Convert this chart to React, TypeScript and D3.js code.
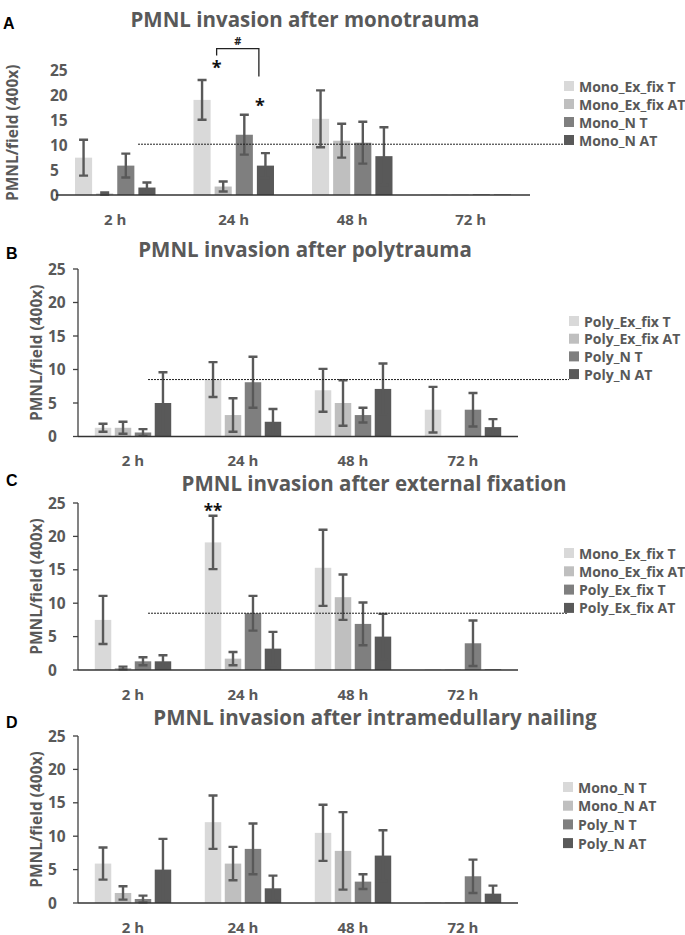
import React, { useEffect, useRef } from "react";
import * as d3 from "d3";

// time points and y ticks
const timepoints = ["2 h", "24 h", "48 h", "72 h"];
const yTicks = [0, 5, 10, 15, 20, 25];

// means (PMNL/field) per time point
const monoExFixT = [7.5, 19.1, 15.3, 0.15];
const monoExFixAT = [0.3, 1.7, 10.9, 0.1];
const monoNT = [5.9, 12.1, 10.5, 0.15];
const monoNAT = [1.5, 5.9, 7.8, 0.1];
const polyExFixT = [1.3, 8.5, 6.9, 4.0];
const polyExFixAT = [1.3, 3.2, 5.0, 0.1];
const polyNT = [0.6, 8.1, 3.2, 4.0];
const polyNAT = [5.0, 2.2, 7.1, 1.4];

// error bars (+/-)
const monoExFixTErr = [3.6, 4.0, 5.7, 0];
const monoExFixATErr = [0.2, 1.0, 3.4, 0];
const monoNTErr = [2.4, 4.0, 4.2, 0];
const monoNATErr = [1.0, 2.5, 5.8, 0];
const polyExFixTErr = [0.6, 2.6, 3.2, 3.4];
const polyExFixATErr = [0.9, 2.5, 3.4, 0];
const polyNTErr = [0.5, 3.8, 1.1, 2.5];
const polyNATErr = [4.6, 1.9, 3.8, 1.2];

const colors = ["#d9d9d9", "#bfbfbf", "#7f7f7f", "#595959"];
const textColor = "#595959";
const font = "'Open Sans', sans-serif";

const panels = [
  {
    letter: "A",
    letterPos: [3, 29],
    title: "PMNL invasion after monotrauma",
    titlePos: [305, 27],
    names: ["Mono_Ex_fix T", "Mono_Ex_fix AT", "Mono_N T", "Mono_N AT"],
    values: [monoExFixT, monoExFixAT, monoNT, monoNAT],
    errors: [monoExFixTErr, monoExFixATErr, monoNTErr, monoNATErr],
    left: 56,
    right: 530,
    bottom: 195,
    top: 70.5,
    axisLine: false,
    tickX: 50,
    yLabelX: 12,
    ref: 10.2,
    refX: [138, 565],
    legend: [564, 86, 18],
    padIn: 0.19,
    padOut: 0.9,
  },
  {
    letter: "B",
    letterPos: [6, 259],
    title: "PMNL invasion after polytrauma",
    titlePos: [305, 257],
    names: ["Poly_Ex_fix T", "Poly_Ex_fix AT", "Poly_N T", "Poly_N AT"],
    values: [polyExFixT, polyExFixAT, polyNT, polyNAT],
    errors: [polyExFixTErr, polyExFixATErr, polyNTErr, polyNATErr],
    left: 78,
    right: 518,
    bottom: 436.5,
    top: 269,
    axisLine: true,
    tickX: 48,
    yLabelX: 36,
    ref: 8.5,
    refX: [148, 569],
    legend: [569, 321, 17.7],
    padIn: 0.175,
    padOut: 0.84,
  },
  {
    letter: "C",
    letterPos: [6, 486],
    title: "PMNL invasion after external fixation",
    titlePos: [374, 491],
    names: ["Mono_Ex_fix T", "Mono_Ex_fix AT", "Poly_Ex_fix T", "Poly_Ex_fix AT"],
    values: [monoExFixT, monoExFixAT, polyExFixT, polyExFixAT],
    errors: [monoExFixTErr, monoExFixATErr, polyExFixTErr, polyExFixATErr],
    left: 78,
    right: 518,
    bottom: 670,
    top: 503,
    axisLine: true,
    tickX: 48,
    yLabelX: 36,
    ref: 8.5,
    refX: [148, 567],
    legend: [564, 553, 18.3],
    padIn: 0.175,
    padOut: 0.84,
  },
  {
    letter: "D",
    letterPos: [6, 728],
    title: "PMNL invasion after intramedullary nailing",
    titlePos: [375, 725],
    names: ["Mono_N T", "Mono_N AT", "Poly_N T", "Poly_N AT"],
    values: [monoNT, monoNAT, polyNT, polyNAT],
    errors: [monoNTErr, monoNATErr, polyNTErr, polyNATErr],
    left: 78,
    right: 518,
    bottom: 903,
    top: 736,
    axisLine: true,
    tickX: 48,
    yLabelX: 36,
    ref: null,
    refX: [0, 0],
    legend: [563, 787, 18.7],
    padIn: 0.175,
    padOut: 0.84,
  },
];

export default function App() {
  const svgRef = useRef(null);

  useEffect(() => {
    const svg = d3.select(svgRef.current);
    svg.selectAll("*").remove();

    const scales = panels.map((p) => {
      const x = d3.scaleBand().domain(timepoints).range([p.left, p.right]);
      const inner = d3
        .scaleBand()
        .domain(d3.range(4))
        .range([0, x.bandwidth()])
        .paddingInner(p.padIn)
        .paddingOuter(p.padOut);
      const y = d3.scaleLinear().domain([0, 25]).range([p.bottom, p.top]);
      return { x, inner, y };
    });

    panels.forEach((p, pi) => {
      const { x, inner, y } = scales[pi];
      const g = svg.append("g");

      // panel letter
      g.append("text")
        .attr("x", p.letterPos[0])
        .attr("y", p.letterPos[1])
        .attr("font-family", "'Liberation Sans', Arial, sans-serif")
        .attr("font-weight", "bold")
        .attr("font-size", 16)
        .attr("fill", "#000")
        .text(p.letter);

      // title
      g.append("text")
        .attr("x", p.titlePos[0])
        .attr("y", p.titlePos[1])
        .attr("text-anchor", "middle")
        .attr("font-family", font)
        .attr("font-weight", "bold")
        .attr("font-size", 20.5)
        .attr("fill", textColor)
        .text(p.title);

      // y tick labels
      g.append("g")
        .selectAll("text")
        .data(yTicks)
        .join("text")
        .attr("x", p.tickX)
        .attr("y", (d) => y(d) + 5.5)
        .attr("font-family", font)
        .attr("font-weight", "bold")
        .attr("font-size", 15.5)
        .attr("fill", textColor)
        .text((d) => d);

      if (p.axisLine) {
        g.append("line")
          .attr("x1", p.left)
          .attr("x2", p.left)
          .attr("y1", y(25))
          .attr("y2", y(0))
          .attr("stroke", "#404040")
          .attr("stroke-width", 1.3);
        g.append("g")
          .selectAll("line")
          .data(yTicks)
          .join("line")
          .attr("x1", p.left - 5)
          .attr("x2", p.left)
          .attr("y1", (d) => y(d))
          .attr("y2", (d) => y(d))
          .attr("stroke", "#404040")
          .attr("stroke-width", 1.3);
      }

      // y axis title
      g.append("text")
        .attr(
          "transform",
          `translate(${p.yLabelX},${(p.top + p.bottom) / 2}) rotate(-90)`,
        )
        .attr("text-anchor", "middle")
        .attr("dominant-baseline", "central")
        .attr("font-family", font)
        .attr("font-weight", "bold")
        .attr("font-size", 15.5)
        .attr("fill", textColor)
        .text("PMNL/field (400x)");

      // bars
      p.values.forEach((vals, si) => {
        const sg = g.append("g");
        sg.selectAll("rect")
          .data(vals)
          .join("rect")
          .attr("x", (d, i) => x(timepoints[i]) + inner(si))
          .attr("width", inner.bandwidth())
          .attr("y", (d) => y(d))
          .attr("height", (d) => y(0) - y(d))
          .attr("fill", colors[si]);
      });

      // error bars
      p.values.forEach((vals, si) => {
        const errs = p.errors[si];
        const items = vals
          .map((v, i) => ({ v, e: errs[i], i }))
          .filter((d) => d.e > 0);
        const eg = g
          .append("g")
          .attr("stroke", "#595959")
          .attr("stroke-width", 2.4)
          .attr("fill", "none");
        const cx = (d) => x(timepoints[d.i]) + inner(si) + inner.bandwidth() / 2;
        eg.selectAll("path")
          .data(items)
          .join("path")
          .attr("d", (d) => {
            const c = cx(d);
            const hi = y(d.v + d.e);
            const lo = y(Math.max(0, d.v - d.e));
            return `M${c},${hi}V${lo}M${c - 4.5},${hi}H${c + 4.5}M${c - 4.5},${lo}H${c + 4.5}`;
          });
      });

      // baseline
      g.append("line")
        .attr("x1", p.left)
        .attr("x2", p.right)
        .attr("y1", y(0))
        .attr("y2", y(0))
        .attr("stroke", "#333")
        .attr("stroke-width", 1.5);

      // x labels
      g.append("g")
        .selectAll("text")
        .data(timepoints)
        .join("text")
        .attr("x", (d) => x(d) + x.bandwidth() / 2)
        .attr("y", p.bottom + 29.5)
        .attr("text-anchor", "middle")
        .attr("font-family", font)
        .attr("font-weight", "bold")
        .attr("font-size", 15)
        .attr("fill", textColor)
        .text((d) => d);

      // dotted reference line
      if (p.ref !== null) {
        g.append("line")
          .attr("x1", p.refX[0])
          .attr("x2", p.refX[1])
          .attr("y1", y(p.ref))
          .attr("y2", y(p.ref))
          .attr("stroke", "#222")
          .attr("stroke-width", 1)
          .attr("stroke-dasharray", "2,1");
      }

      // legend
      const [lx, ly, ls] = p.legend;
      const lg = g
        .append("g")
        .selectAll("g")
        .data(p.names)
        .join("g")
        .attr("transform", (d, i) => `translate(${lx},${ly + i * ls})`);
      lg.append("rect")
        .attr("x", 0)
        .attr("y", -5)
        .attr("width", 10)
        .attr("height", 10)
        .attr("fill", (d, i) => colors[i]);
      lg.append("text")
        .attr("x", 15)
        .attr("y", 5.5)
        .attr("font-family", font)
        .attr("font-weight", "bold")
        .attr("font-size", 14)
        .attr("fill", textColor)
        .text((d) => d);
    });

    // significance marks, panel A
    {
      const { x, inner, y } = scales[0];
      const bx = x("24 h");
      const left = bx + inner(1) + 2;
      const right = bx + inner(3) + 2;
      const a = svg.append("g");
      a.append("path")
        .attr("d", `M${left},${y(28)}V${y(29.4)}H${right}V${y(23.8)}`)
        .attr("fill", "none")
        .attr("stroke", "#222")
        .attr("stroke-width", 1.3);
      a.append("text")
        .attr("x", (left + right) / 2)
        .attr("y", y(30.2))
        .attr("text-anchor", "middle")
        .attr("font-family", font)
        .attr("font-weight", "bold")
        .attr("font-size", 11)
        .attr("fill", "#222")
        .text("#");
      a.append("text")
        .attr("x", left)
        .attr("y", y(24.2))
        .attr("text-anchor", "middle")
        .attr("font-family", font)
        .attr("font-weight", "bold")
        .attr("font-size", 18)
        .attr("fill", "#111")
        .text("*");
      a.append("text")
        .attr("x", right + 1)
        .attr("y", y(16.7))
        .attr("text-anchor", "middle")
        .attr("font-family", font)
        .attr("font-weight", "bold")
        .attr("font-size", 18)
        .attr("fill", "#111")
        .text("*");
    }

    // significance marks, panel C
    {
      const { x, inner, y } = scales[2];
      svg
        .append("text")
        .attr("x", x("24 h") + inner(0) + inner.bandwidth() / 2)
        .attr("y", y(22.9))
        .attr("text-anchor", "middle")
        .attr("font-family", font)
        .attr("font-weight", "bold")
        .attr("font-size", 17)
        .attr("fill", "#111")
        .text("**");
    }
  }, []);

  return (
    <svg
      ref={svgRef}
      width={685}
      height={935}
      style={{ position: "absolute", left: 0, top: 0, background: "#fff" }}
    />
  );
}
